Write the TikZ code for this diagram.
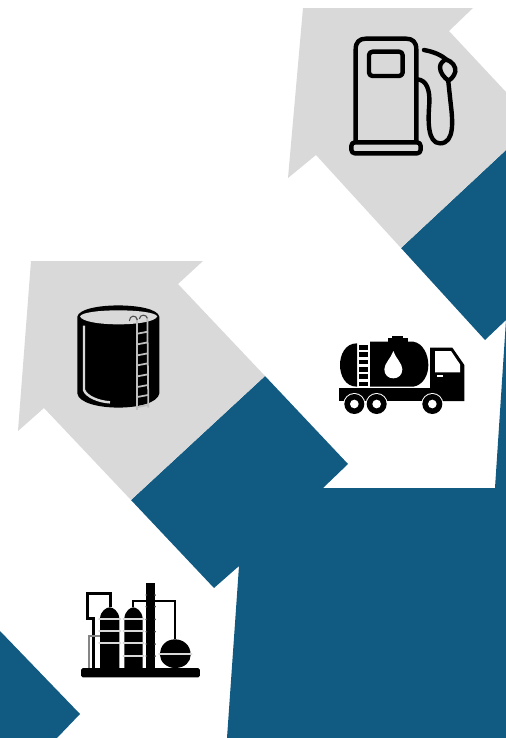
\documentclass[tikz,border=0pt]{standalone}

\definecolor{petrol}{RGB}{17,90,130}
\definecolor{panel}{RGB}{217,217,217}
\definecolor{rung}{RGB}{190,190,190}

\begin{document}
\begin{tikzpicture}[
    x=0.02cm, y=-0.02cm,
    band/.style={fill=petrol, draw=none},
    greyarrow/.style={fill=panel, draw=none},
    icon/.style={shift={#1}, scale=1/3},
    outline/.style={draw=black, line width=2.5pt, line join=round, line cap=round},
    solid/.style={fill=black, draw=none},
    gap/.style={fill=white, draw=none},
    ring/.style={draw=panel, line width=1.1pt, line cap=round},
]

\useasboundingbox (0,0) rectangle (506,738);
\fill[white] (0,0) rectangle (506,738);

% ====== Blue band ======
\fill[band] (506,150) -- (401,248) -- (485,340) -- (506,320) -- (506,738) -- (227,738)
    -- (239,566) -- (214,588) -- (131,500) -- (265,376) -- (348,464) -- (323,488) -- (495,488) -- (506,320) -- cycle;
\fill[band] (0,631) -- (80,714) -- (57,738) -- (0,738) -- cycle;

% ====== Grey arrows ======
\fill[greyarrow] (303,8) -- (473,8) -- (449,31) -- (506,92) -- (506,150) -- (401,248) -- (316,155) -- (288,178) -- cycle;
\fill[greyarrow] (31,261) -- (203,261) -- (178,284) -- (265,376) -- (131,500) -- (44,408) -- (18,431) -- cycle;

% ====== Pump ======
\begin{scope}[icon={(330,20)}]
  \draw[outline] (77,366) -- (77,88) .. controls (77,66) and (88,56) .. (108,56) -- (228,56)
      .. controls (248,56) and (259,66) .. (259,88) -- (259,366);
  \draw[outline, rounded corners=2pt] (117,95) rectangle (218,168);
  \draw[outline, rounded corners=2pt] (64,367) rectangle (272,400);
  \draw[outline] (262,178) .. controls (290,180) and (300,210) .. (298,250)
      .. controls (294,300) and (292,370) .. (330,370)
      .. controls (375,370) and (368,300) .. (362,250) -- (355,185);
  \draw[outline] (282,90) .. controls (310,95) and (335,105) .. (350,120);
  \draw[outline] (348,118) .. controls (368,125) and (378,140) .. (376,155)
      .. controls (372,170) and (362,178) .. (355,182)
      .. controls (342,172) and (330,158) .. (330,142)
      .. controls (330,130) and (340,122) .. (348,118) -- cycle;
\end{scope}

% ====== Truck ======
\begin{scope}[icon={(325,325)}]
  \fill[solid] (200,33) rectangle (235,42);
  \fill[solid] (190,40) rectangle (248,50);
  \fill[solid] (96,55) .. controls (60,55) and (45,90) .. (45,120)
      .. controls (45,150) and (60,185) .. (96,185) -- cycle;
  \fill[solid] (135,50) -- (265,50) .. controls (295,55) and (310,90) .. (310,120)
      .. controls (310,150) and (295,180) .. (265,185) -- (135,185) -- cycle;
  % ladder: white frame, black cells
  \foreach \celly in {60,82,104,126,148,170} {
    \fill[solid] (101,\celly) rectangle (129,\celly+14);
  }
  \fill[gap] (205,78) .. controls (198,100) and (178,115) .. (178,133)
      .. controls (178,150) and (190,160) .. (205,160)
      .. controls (220,160) and (232,150) .. (232,133)
      .. controls (232,115) and (212,100) .. (205,78) -- cycle;
  \fill[solid] (42,190) rectangle (315,228);
  \fill[solid] (315,228) -- (315,68) -- (382,68) -- (418,120) -- (418,228) -- cycle;
  \fill[gap] (330,78) -- (378,78) -- (405,118) -- (405,142) -- (330,142) -- cycle;
  \fill[gap] (335,150) rectangle (355,155);
  \foreach \wheelx in {88,155,322} {
    \fill[gap] (\wheelx,237) circle (33);
    \fill[solid] (\wheelx,237) circle (30);
    \fill[gap] (\wheelx,237) circle (13);
  }
\end{scope}

% ====== Storage tank ======
\begin{scope}[icon={(60,295)}]
  \fill[solid] (52,65) .. controls (60,20) and (290,20) .. (298,65) -- (298,295)
      .. controls (290,352) and (60,352) .. (52,295) -- cycle;
  \fill[panel] (60,64) .. controls (70,40) and (280,40) .. (292,64)
      .. controls (280,96) and (70,96) .. (60,64) -- cycle;
  \draw[panel, line width=1.4pt] (72,92) -- (72,285) .. controls (80,305) and (115,320) .. (150,322);
  \draw[rung, line width=1pt] (232,70) -- (232,345);
  \draw[rung, line width=1pt] (262,65) -- (265,338);
  \foreach \stepy in {110,142,175,205,238,270,300,330} {
    \draw[rung, line width=1pt] (232,\stepy+6) -- (264,\stepy);
  }
  \draw[black!70, line width=0.6pt] (208,78) .. controls (208,60) and (230,58) .. (232,75);
  \draw[black!70, line width=0.6pt] (238,72) .. controls (240,56) and (260,58) .. (262,70);
\end{scope}

% ====== Refinery ======
\begin{scope}[icon={(70,570)}]
  \fill[solid, rounded corners=1pt] (33,294) rectangle (390,322);
  \fill[solid] (229,40) rectangle (255,294);
  \fill[solid] (90,294) -- (90,145) .. controls (92,122) and (110,112) .. (119,112)
      .. controls (128,112) and (146,122) .. (148,145) -- (148,294) -- cycle;
  \fill[solid] (163,294) -- (163,145) .. controls (165,122) and (182,112) .. (190,112)
      .. controls (198,112) and (216,122) .. (218,145) -- (218,294) -- cycle;
  \fill[solid] (270,255) .. controls (270,225) and (290,208) .. (315,208)
      .. controls (340,208) and (362,225) .. (362,255)
      .. controls (362,275) and (345,294) .. (315,294)
      .. controls (290,294) and (270,275) .. (270,255) -- cycle;
  \draw[black, line width=1.7pt] (122,112) -- (122,70) -- (52,70) -- (52,145) -- (70,145) -- (70,294);
  \draw[black, line width=1.3pt] (188,112) -- (188,92) -- (315,92) -- (315,208);
  \draw[rung!70!black, line width=0.8pt] (57,294) -- (57,198) -- (90,198);
  \foreach \ringy in {147,184,220} {
    \draw[ring] (87,\ringy) -- (151,\ringy);
  }
  \foreach \ringy in {147,184,220,257} {
    \draw[ring] (160,\ringy) -- (221,\ringy);
  }
  \draw[ring] (267,253) -- (365,253);
  \foreach \nuby in {75,110,148,185,222,258} {
    \fill[black!75] (229,\nuby) circle (3);
    \fill[black!75] (255,\nuby) circle (3);
  }
\end{scope}

\end{tikzpicture}
\end{document}
